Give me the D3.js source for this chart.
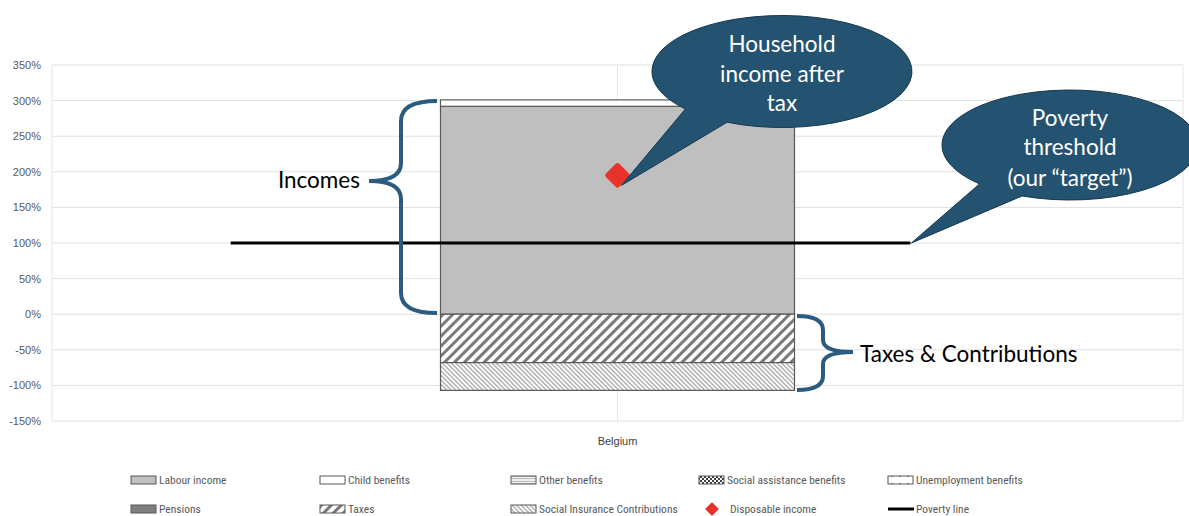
<!DOCTYPE html>
<html>
<head>
<meta charset="utf-8">
<script src="https://cdn.jsdelivr.net/npm/d3@7"></script>
<style>
  html, body { margin: 0; padding: 0; background: #fff; }
  svg { display: block; }
</style>
</head>
<body>
<svg id="chart" width="1189" height="516"></svg>
<script>
// ---------------- DATA ----------------
const categories = ["Belgium"];
const seriesNames = ["Labour income", "Child benefits", "Other benefits", "Social assistance benefits",
  "Unemployment benefits", "Pensions", "Taxes", "Social Insurance Contributions"];
const labourIncome = [292];
const childBenefits = [9];
const otherBenefits = [0];
const socialAssistance = [0];
const unemploymentBenefits = [0];
const pensions = [0];
const taxes = [-68];
const socialInsurance = [-39];
const disposableIncome = [195];
const povertyLine = [100];
const yTicks = [350, 300, 250, 200, 150, 100, 50, 0, -50, -100, -150];
const legendLabels = ["Labour income", "Child benefits", "Other benefits", "Social assistance benefits",
  "Unemployment benefits", "Pensions", "Taxes", "Social Insurance Contributions", "Disposable income", "Poverty line"];

// ---------------- SETUP ----------------
const svg = d3.select("#chart");
const defs = svg.append("defs");

const plot = { left: 52, right: 1183, top: 65, bottom: 421 };
const x = d3.scaleBand().domain(categories).range([plot.left, plot.right]).padding(0);
const y = d3.scaleLinear().domain([-150, 350]).range([plot.bottom, plot.top]);

// patterns
function stripePattern(id, width, angle, stroke, sw, bg) {
  const p = defs.append("pattern").attr("id", id).attr("patternUnits", "userSpaceOnUse")
    .attr("width", width).attr("height", width).attr("patternTransform", `rotate(${angle})`);
  p.append("rect").attr("width", width).attr("height", width).attr("fill", bg);
  p.append("line").attr("x1", width / 2).attr("x2", width / 2).attr("y1", 0).attr("y2", width)
    .attr("stroke", stroke).attr("stroke-width", sw);
}
stripePattern("pTaxes", 7, 45, "#7a7a7a", 3, "#ffffff");
stripePattern("pSIC", 3.2, -45, "#a6a6a6", 1.3, "#ffffff");
stripePattern("pOther", 2.5, 90, "#a6a6a6", 1, "#ffffff");
// social assistance: checker
(function () {
  const p = defs.append("pattern").attr("id", "pSocial").attr("patternUnits", "userSpaceOnUse")
    .attr("width", 4).attr("height", 4);
  p.append("rect").attr("width", 4).attr("height", 4).attr("fill", "#ffffff");
  p.append("rect").attr("width", 2).attr("height", 2).attr("fill", "#404040");
  p.append("rect").attr("x", 2).attr("y", 2).attr("width", 2).attr("height", 2).attr("fill", "#404040");
})();
// unemployment: sparse dots
(function () {
  const p = defs.append("pattern").attr("id", "pUnemp").attr("patternUnits", "userSpaceOnUse")
    .attr("width", 8).attr("height", 8);
  p.append("rect").attr("width", 8).attr("height", 8).attr("fill", "#ffffff");
  p.append("rect").attr("x", 3).attr("y", 3).attr("width", 2).attr("height", 2).attr("fill", "#808080");
})();

const fills = {
  "Labour income": "#bfbfbf",
  "Child benefits": "#ffffff",
  "Other benefits": "url(#pOther)",
  "Social assistance benefits": "url(#pSocial)",
  "Unemployment benefits": "url(#pUnemp)",
  "Pensions": "#7f7f7f",
  "Taxes": "url(#pTaxes)",
  "Social Insurance Contributions": "url(#pSIC)"
};

// ---------------- GRID & AXES ----------------
const grid = svg.append("g");
grid.selectAll("line.h").data(yTicks).join("line")
  .attr("x1", plot.left).attr("x2", plot.right)
  .attr("y1", d => y(d)).attr("y2", d => y(d))
  .attr("stroke", "#e0e0e0").attr("stroke-width", 1);
grid.selectAll("line.v").data([plot.left, x(categories[0]) + x.bandwidth() / 2, plot.right]).join("line")
  .attr("x1", d => d).attr("x2", d => d).attr("y1", plot.top).attr("y2", plot.bottom)
  .attr("stroke", "#e6e6e6").attr("stroke-width", 1);

const yAxis = svg.append("g").attr("transform", `translate(${plot.left - 11},0)`)
  .call(d3.axisLeft(y).tickValues(yTicks).tickFormat(d => d + "%").tickSize(0).tickPadding(0));
yAxis.select(".domain").remove();
yAxis.selectAll("text").attr("fill", "#595959").attr("font-size", 11)
  .attr("font-family", "Liberation Sans, Arial, sans-serif");

const xAxis = svg.append("g").attr("transform", `translate(0,${plot.bottom + 16})`)
  .call(d3.axisBottom(x).tickSize(0).tickPadding(0));
xAxis.select(".domain").remove();
xAxis.selectAll("text").attr("fill", "#404040").attr("font-size", 11)
  .attr("font-family", "Liberation Sans, Arial, sans-serif");

// ---------------- BARS ----------------
const rows = categories.map((c, i) => ({
  category: c,
  "Labour income": labourIncome[i],
  "Child benefits": childBenefits[i],
  "Other benefits": otherBenefits[i],
  "Social assistance benefits": socialAssistance[i],
  "Unemployment benefits": unemploymentBenefits[i],
  "Pensions": pensions[i],
  "Taxes": taxes[i],
  "Social Insurance Contributions": socialInsurance[i]
}));
const stacked = d3.stack().keys(seriesNames).offset(d3.stackOffsetDiverging)(rows);
const barW = x.bandwidth() * 0.313;
svg.append("g").selectAll("g").data(stacked).join("g")
  .attr("fill", d => fills[d.key])
  .selectAll("rect").data(d => d).join("rect")
  .attr("x", d => x(d.data.category) + x.bandwidth() / 2 - barW / 2)
  .attr("width", barW)
  .attr("y", d => y(Math.max(d[0], d[1])))
  .attr("height", d => Math.abs(y(d[0]) - y(d[1])))
  .attr("stroke", d => (d[1] - d[0]) !== 0 ? "#595959" : "none")
  .attr("stroke-width", 1.2);

// ---------------- POVERTY LINE ----------------
const povG = svg.append("g");
categories.forEach((c, i) => {
  const cx = x(c) + x.bandwidth() / 2;
  povG.append("line")
    .attr("x1", cx - x.bandwidth() * 0.342).attr("x2", cx + x.bandwidth() * 0.259)
    .attr("y1", y(povertyLine[i])).attr("y2", y(povertyLine[i]))
    .attr("stroke", "#000").attr("stroke-width", 3);
});

// ---------------- DISPOSABLE INCOME MARKER ----------------
const diamond = d3.symbol().type(d3.symbolSquare).size(190);
svg.append("g").selectAll("path").data(categories).join("path")
  .attr("d", diamond)
  .attr("transform", (c, i) => `translate(${x(c) + x.bandwidth() / 2},${y(disposableIncome[i])}) rotate(45)`)
  .attr("fill", "#e8322a").attr("stroke", "#e8322a").attr("stroke-width", 5).attr("stroke-linejoin", "round");

// ---------------- ANNOTATIONS ----------------
const annColor = "#245271";
const annFont = "Lato, Open Sans, sans-serif";
function callout(cx, cy, rx, ry, a1, a2, tip, lines, lineY) {
  const p = a => [cx + rx * Math.cos(a * Math.PI / 180), cy + ry * Math.sin(a * Math.PI / 180)];
  const p1 = p(a1), p2 = p(a2);
  const g = svg.append("g");
  g.append("path")
    .attr("d", `M${p1[0]},${p1[1]} A${rx},${ry} 0 1 1 ${p2[0]},${p2[1]} L${tip[0]},${tip[1]} Z`)
    .attr("fill", annColor).attr("stroke", "#17374d").attr("stroke-width", 1);
  g.selectAll("text").data(lines).join("text")
    .attr("x", cx).attr("y", (d, i) => lineY[i])
    .attr("text-anchor", "middle").attr("dominant-baseline", "central")
    .attr("fill", "#ffffff").attr("font-size", 22.5).attr("font-family", annFont)
    .text(d => d);
}
const cxB = x(categories[0]) + x.bandwidth() / 2;
callout(782, 71.5, 130, 56, 138, 115, [cxB + 4, y(disposableIncome[0]) + 10],
  ["Household", "income after", "tax"], [43, 73, 102]);
callout(1070, 145, 128, 55, 135, 112, [cxB + x.bandwidth() * 0.259 + 1, y(povertyLine[0])],
  ["Poverty", "threshold", "(our \u201Ctarget\u201D)"], [117, 146, 177]);

// braces
svg.append("path")
  .attr("d", "M437,101 Q401,101 401,121 L401,163 Q401,181 369,181 Q401,181 401,199 L401,293 Q401,313 437,313")
  .attr("fill", "none").attr("stroke", "#2b5b7e").attr("stroke-width", 4);
svg.append("path")
  .attr("d", "M797,316 Q823,316 823,330 L823,340 Q823,352 853,352 Q823,352 823,364 L823,376 Q823,390 797,390")
  .attr("fill", "none").attr("stroke", "#2b5b7e").attr("stroke-width", 4);
svg.append("text").attr("x", 360).attr("y", 179).attr("text-anchor", "end").attr("dominant-baseline", "central")
  .attr("font-size", 22.5).attr("font-family", annFont).attr("fill", "#000").text("Incomes");
svg.append("text").attr("x", 860).attr("y", 353).attr("dominant-baseline", "central")
  .attr("font-size", 22.5).attr("font-family", annFont).attr("fill", "#000").text("Taxes & Contributions");

// ---------------- LEGEND ----------------
const legCols = [131, 320, 511, 699, 888];
const legRows = [480, 509];
const legend = svg.append("g");
legendLabels.forEach((name, i) => {
  const lx = legCols[i % 5], ly = legRows[Math.floor(i / 5)];
  const g = legend.append("g");
  if (name === "Disposable income") {
    g.append("path").attr("d", d3.symbol().type(d3.symbolSquare).size(60))
      .attr("transform", `translate(${lx + 13},${ly}) rotate(45)`)
      .attr("fill", "#e8322a").attr("stroke", "#e8322a").attr("stroke-width", 2).attr("stroke-linejoin", "round");
  } else if (name === "Poverty line") {
    g.append("line").attr("x1", lx).attr("x2", lx + 26).attr("y1", ly).attr("y2", ly)
      .attr("stroke", "#000").attr("stroke-width", 3);
  } else {
    g.append("rect").attr("x", lx).attr("y", ly - 4).attr("width", 25).attr("height", 8)
      .attr("fill", fills[name]).attr("stroke", "#595959").attr("stroke-width", 1);
  }
  g.append("text").attr("x", name === "Disposable income" ? lx + 31 : lx + 28).attr("y", ly)
    .attr("dominant-baseline", "central")
    .attr("font-size", 11.5).attr("fill", "#595959")
    .attr("font-family", "Liberation Sans Narrow, Roboto Condensed, Roboto, sans-serif")
    .text(name);
});
</script>
</body>
</html>
